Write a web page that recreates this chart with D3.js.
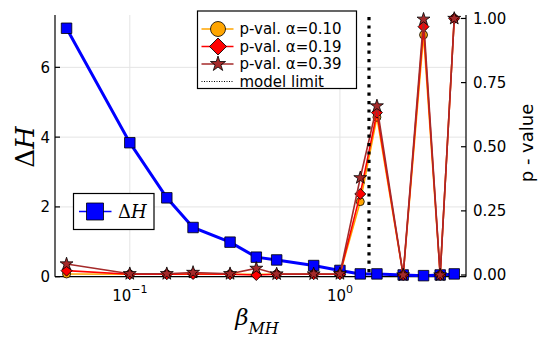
<!DOCTYPE html>
<html>
<head>
<meta charset="utf-8">
<script src="https://cdn.jsdelivr.net/npm/d3@7"></script>
<style>
  body { margin: 0; background: #fff; }
  text { font-family: "DejaVu Sans", sans-serif; fill: #000; }
  .math { font-family: "DejaVu Serif", serif; }
</style>
</head>
<body>
<script>
// chart values
const beta = [0.05, 0.1, 0.15, 0.2, 0.3, 0.4, 0.5, 0.75, 1.0, 1.25, 1.5, 2, 2.5, 3, 3.5];
const deltaH = [7.12, 3.84, 2.26, 1.41, 0.99, 0.56, 0.48, 0.32, 0.18, 0.08, 0.08, 0.05, 0.03, 0.05, 0.08];
const pVal10 = [0.004, 0.003, 0.003, 0.003, 0.003, 0.003, 0.003, 0.003, 0.003, 0.286, 0.615, 0.0, 0.936, 0.0, 1.0];
const pVal19 = [0.017, 0.003, 0.003, 0.004, 0.003, 0.0, 0.003, 0.003, 0.003, 0.316, 0.633, 0.0, 0.968, 0.0, 1.0];
const pVal39 = [0.043, 0.005, 0.005, 0.01, 0.005, 0.026, 0.004, 0.004, 0.005, 0.379, 0.659, 0.0, 0.997, 0.0, 1.0];
const modelLimit = 1.375;

const leftTicks = [0, 2, 4, 6];
const rightTicks = [0, 0.25, 0.5, 0.75, 1.0];
const xTicks = [0.1, 1];
const xTickExp = ['\u22121', '0'];

const seriesNames = ['p-val. \u03b1=0.10', 'p-val. \u03b1=0.19', 'p-val. \u03b1=0.39'];

const chartWidth = 540;
const chartHeight = 338;
const plot = { left: 55, right: 466, top: 15, bottom: 276.7 };

const x = d3.scaleLog().domain([Math.pow(10, -1.356), Math.pow(10, 0.6)]).range([plot.left, plot.right]);
const yL = d3.scaleLinear().domain([0, 7.5]).range([plot.bottom, plot.top]);
const yR = d3.scaleLinear().domain([-0.0066, 1.0135]).range([plot.bottom, plot.top]);

const svg = d3.select('body').append('svg')
  .attr('width', chartWidth)
  .attr('height', chartHeight);

// grid (primary axes only)
const grid = svg.append('g').attr('stroke', '#e4e4e4').attr('stroke-width', 1);
xTicks.forEach(t => grid.append('line')
  .attr('x1', x(t)).attr('x2', x(t)).attr('y1', plot.top).attr('y2', plot.bottom));
leftTicks.forEach(t => grid.append('line')
  .attr('x1', plot.left).attr('x2', plot.right).attr('y1', yL(t)).attr('y2', yL(t)));

// axes lines + inward ticks
const ax = svg.append('g').attr('stroke', '#000').attr('stroke-width', 1.2);
ax.append('line').attr('x1', plot.left).attr('x2', plot.left).attr('y1', plot.top).attr('y2', plot.bottom);
ax.append('line').attr('x1', plot.left).attr('x2', plot.right).attr('y1', plot.bottom).attr('y2', plot.bottom);
ax.append('line').attr('x1', plot.right).attr('x2', plot.right).attr('y1', plot.top).attr('y2', plot.bottom);
leftTicks.forEach(t => ax.append('line')
  .attr('x1', plot.left).attr('x2', plot.left + 5).attr('y1', yL(t)).attr('y2', yL(t)));
rightTicks.forEach(t => ax.append('line')
  .attr('x1', plot.right - 5).attr('x2', plot.right).attr('y1', yR(t)).attr('y2', yR(t)));
xTicks.forEach(t => ax.append('line')
  .attr('x1', x(t)).attr('x2', x(t)).attr('y1', plot.bottom - 5).attr('y2', plot.bottom));

// tick labels
leftTicks.forEach(t => svg.append('text')
  .attr('x', plot.left - 5).attr('y', yL(t)).attr('dy', '0.36em')
  .attr('text-anchor', 'end').style('font-size', '15px').text(t));
rightTicks.forEach(t => svg.append('text')
  .attr('x', plot.right + 7).attr('y', yR(t)).attr('dy', '0.36em')
  .style('font-size', '15px').text(d3.format('.2f')(t)));
xTicks.forEach((t, i) => {
  const lbl = svg.append('text')
    .attr('x', x(t)).attr('y', 300.5)
    .attr('text-anchor', 'middle').style('font-size', '15px');
  lbl.append('tspan').text('10');
  lbl.append('tspan').attr('dy', -8).style('font-size', '11px').text(xTickExp[i]);
});

// axis titles
const xt = svg.append('text').attr('class', 'math')
  .attr('x', 257).attr('y', 325).attr('text-anchor', 'middle');
xt.append('tspan').style('font-size', '23px').style('font-style', 'italic').text('\u03b2');
xt.append('tspan').attr('dy', 9).style('font-size', '16px').style('font-style', 'italic').text('MH');

const yt = svg.append('text').attr('class', 'math')
  .attr('transform', 'translate(34,147) rotate(-90)')
  .attr('text-anchor', 'middle').style('font-size', '26px');
yt.append('tspan').text('\u0394');
yt.append('tspan').style('font-style', 'italic').text('H');

svg.append('text')
  .attr('transform', 'translate(533,143) rotate(-90)')
  .attr('text-anchor', 'middle').style('font-size', '18px').text('p - value');

// markers
const starSize = r => r * r / 0.8908130915292852;
function marker(g, kind, cx, cy, s) {
  let path;
  if (kind === 'square') path = d3.symbol(d3.symbolSquare, s * s)();
  else if (kind === 'circle') path = d3.symbol(d3.symbolCircle, Math.PI * s * s)();
  else if (kind === 'diamond') path = d3.symbol(d3.symbolSquare, 2 * s * s)();
  else path = d3.symbol(d3.symbolStar, starSize(s))();
  return g.append('path').attr('d', path)
    .attr('transform', `translate(${cx},${cy})` + (kind === 'diamond' ? ' rotate(45)' : ''))
    .attr('stroke', '#000').attr('stroke-width', 0.8);
}

// ΔH series (primary axis)
const lineL = d3.line().x((d, i) => x(beta[i])).y(d => yL(d));
svg.append('path').datum(deltaH).attr('d', lineL)
  .attr('fill', 'none').attr('stroke', '#0000ff').attr('stroke-width', 3);
const gH = svg.append('g').attr('fill', '#0000ff');
deltaH.forEach((d, i) => marker(gH, 'square', x(beta[i]), yL(d), 10.5));

// p-value series (twin axis)
const pSeries = [
  { vals: pVal10, color: '#ffa500', kind: 'circle', size: 4, lsize: 7.5 },
  { vals: pVal19, color: '#ff0000', kind: 'diamond', size: 5.5, lsize: 8.5 },
  { vals: pVal39, color: '#a52a2a', kind: 'star', size: 6.8, lsize: 8 }
];
const lineR = d3.line().x((d, i) => x(beta[i])).y(d => yR(d));
pSeries.forEach(s => {
  svg.append('path').datum(s.vals).attr('d', lineR)
    .attr('fill', 'none').attr('stroke', s.color).attr('stroke-width', 1.6);
  const g = svg.append('g').attr('fill', s.color);
  s.vals.forEach((d, i) => marker(g, s.kind, x(beta[i]), yR(d), s.size));
});

// model limit
svg.append('line')
  .attr('x1', x(modelLimit)).attr('x2', x(modelLimit))
  .attr('y1', plot.top + 2).attr('y2', plot.bottom)
  .attr('stroke', '#000').attr('stroke-width', 3.2).attr('stroke-dasharray', '3.2,5.2');

// legend for p-values
const leg = svg.append('g');
leg.append('rect').attr('x', 197.5).attr('y', 11).attr('width', 159).attr('height', 77.5)
  .attr('fill', '#fff').attr('stroke', '#000').attr('stroke-width', 1.2);
pSeries.forEach((s, i) => {
  const cy = 29 + i * 17.5;
  leg.append('line').attr('x1', 201.5).attr('x2', 233.5).attr('y1', cy).attr('y2', cy)
    .attr('stroke', s.color).attr('stroke-width', 1.6);
  marker(leg.append('g').attr('fill', s.color), s.kind, 218, cy, s.lsize);
  leg.append('text').attr('x', 239.5).attr('y', cy).attr('dy', '0.36em')
    .style('font-size', '15px').text(seriesNames[i]);
});
leg.append('line').attr('x1', 201.5).attr('x2', 233.5).attr('y1', 81.5).attr('y2', 81.5)
  .attr('stroke', '#000').attr('stroke-width', 1).attr('stroke-dasharray', '1,1.5');
leg.append('text').attr('x', 239.5).attr('y', 81.5).attr('dy', '0.36em')
  .style('font-size', '15px').text('model limit');

// legend for ΔH
const leg2 = svg.append('g');
leg2.append('rect').attr('x', 73.5).attr('y', 193.5).attr('width', 80.5).attr('height', 36)
  .attr('fill', '#fff').attr('stroke', '#000').attr('stroke-width', 1.2);
leg2.append('line').attr('x1', 79).attr('x2', 111.5).attr('y1', 211.5).attr('y2', 211.5)
  .attr('stroke', '#0000ff').attr('stroke-width', 1.6);
marker(leg2.append('g').attr('fill', '#0000ff'), 'square', 95, 211.5, 17);
const l2t = leg2.append('text').attr('class', 'math')
  .attr('x', 118).attr('y', 211.5).attr('dy', '0.36em').style('font-size', '18px');
l2t.append('tspan').text('\u0394');
l2t.append('tspan').style('font-style', 'italic').text('H');
</script>
</body>
</html>
